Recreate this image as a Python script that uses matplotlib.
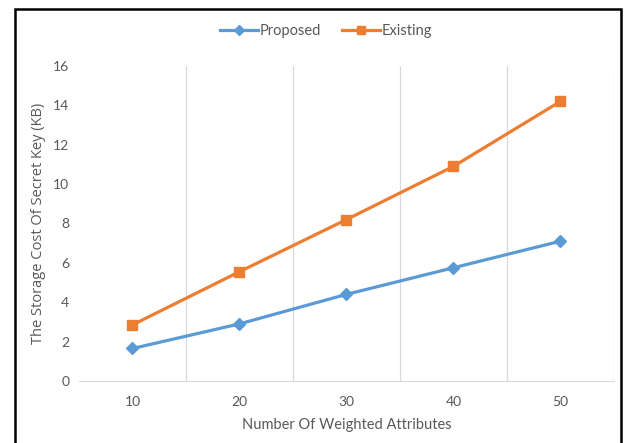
import matplotlib.pyplot as plt
from matplotlib.patches import Rectangle

# Storage cost of the secret key vs. number of weighted attributes
attributes = [10, 20, 30, 40, 50]
proposed = [1.65, 2.9, 4.4, 5.75, 7.1]
existing = [2.85, 5.55, 8.2, 10.9, 14.2]

narrow = "Lato"

fig = plt.figure(figsize=(6.27, 4.43), dpi=100)
ax = fig.add_axes([0.126, 0.140, 0.853, 0.711])

ax.plot(attributes, proposed, color="#5B9BD5", lw=2.3, marker="D", ms=6.5, label="Proposed")
ax.plot(attributes, existing, color="#ED7D31", lw=2.3, marker="s", ms=7, label="Existing")

ax.set_xlim(5, 55)
ax.set_ylim(0, 16)
ax.set_xticks(attributes)
ax.set_yticks(range(0, 17, 2))
ax.set_xticks([15, 25, 35, 45, 55], minor=True)
ax.grid(axis="x", which="minor", color="#D9D9D9", lw=0.9)
ax.tick_params(which="both", length=0, labelcolor="#595959")
ax.tick_params(axis="x", pad=11)
ax.tick_params(axis="y", pad=7)
for lab in ax.get_xticklabels() + ax.get_yticklabels():
    lab.set_fontfamily(narrow)
    lab.set_fontsize(10)

for side in ["top", "right", "left"]:
    ax.spines[side].set_visible(False)
ax.spines["bottom"].set_color("#D9D9D9")

ax.set_xlabel("Number Of Weighted Attributes", family=narrow, fontsize=10.5,
              color="#595959", labelpad=7)
ax.set_ylabel("The Storage Cost Of Secret Key (KB)", family=["Open Sans", "DejaVu Sans"],
              fontsize=10.5, color="#595959")
ax.yaxis.set_label_coords(-0.062, 0.5)

fig.legend(loc="center", bbox_to_anchor=(0.52, 0.93), ncol=2, frameon=False,
           prop={"family": narrow, "size": 10.5}, labelcolor="#595959",
           handlelength=2.6, columnspacing=1.5, handletextpad=0.1, markerscale=0.8)

# black frame around the chart
fig.add_artist(Rectangle((0.024, -0.01), 0.966, 0.99, transform=fig.transFigure,
                         fill=False, edgecolor="black", lw=1.8))

fig.savefig("out.png", dpi=100)
